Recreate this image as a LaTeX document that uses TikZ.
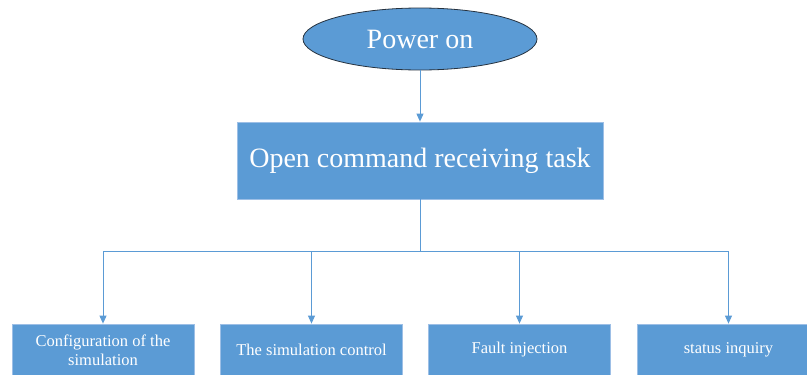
\documentclass[tikz,border=0pt]{standalone}
\usepackage{fontspec}
\setmainfont{Liberation Serif}
\usetikzlibrary{arrows.meta,shapes.geometric}
\definecolor{boxblue}{HTML}{5B9BD5}
\definecolor{boxedge}{HTML}{9DBFE6}
\definecolor{ovaledge}{HTML}{26323F}
\definecolor{linkblue}{HTML}{5B9BD5}
\tikzset{
  bigbox/.style={rectangle, fill=boxblue, draw=boxedge, line width=0.8pt, text=white,
    minimum width=366pt, minimum height=77pt, inner sep=0pt,
    font=\fontsize{28}{32}\selectfont},
  smallbox/.style={rectangle, fill=boxblue, draw=boxedge, line width=0.8pt, text=white,
    minimum width=182pt, minimum height=52pt, inner sep=0pt, align=center,
    font=\fontsize{16.5}{19}\selectfont},
  oval/.style={ellipse, fill=boxblue, draw=ovaledge, line width=0.8pt, text=white,
    minimum width=234pt, minimum height=62pt, inner sep=0pt,
    font=\fontsize{28}{32}\selectfont},
  link/.style={draw=linkblue, line width=0.9pt},
  arr/.style={link, -{Triangle[width=7pt,length=8pt]}}
}
\begin{document}
\begin{tikzpicture}[x=1pt,y=-1pt]
\useasboundingbox[fill=white] (0,0) rectangle (807,375);
\node[oval] (pw) at (420,39) {Power on};
\node[bigbox] (main) at (420,160.5) {Open command receiving task};
\node[smallbox] (b1) at (103,350) {Configuration of the\\simulation};
\node[smallbox] (b2) at (311.5,350) {The simulation control};
\node[smallbox] (b3) at (519.5,350) {Fault injection};
\node[smallbox] (b4) at (728.5,350) {status inquiry};
\coordinate (j) at (420,251);
\draw[arr] (pw) -- (main);
\draw[link] (main.south) -- (j);
\draw[arr] (j) -| (b1);
\draw[arr] (j) -| (b2);
\draw[arr] (j) -| (b3);
\draw[arr] (j) -| (b4);
\end{tikzpicture}
\end{document}
